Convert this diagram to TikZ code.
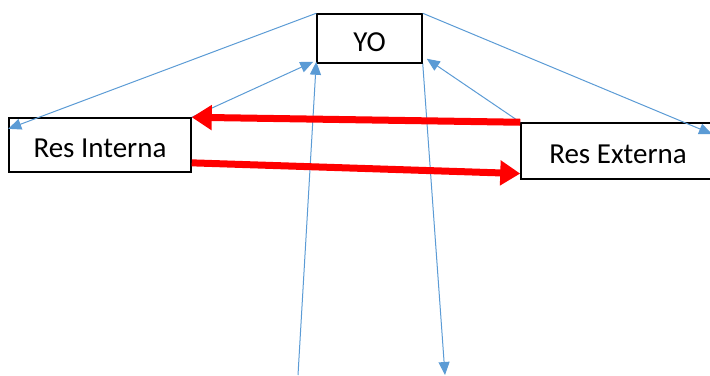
\documentclass[tikz,border=0pt]{standalone}
\usepackage{fontspec}
\setmainfont{Carlito}
\usetikzlibrary{arrows.meta,calc}
\definecolor{linkcol}{RGB}{91,155,213}
\definecolor{flowcol}{RGB}{255,0,0}
\tikzset{
  box/.style={draw=black,line width=1.5bp,fill=white,inner sep=0pt,
    font=\fontsize{29bp}{35bp}\selectfont,text height=25bp,text depth=0bp},
  link/.style={draw=linkcol,line width=1bp,-{Triangle[length=13bp,width=11bp]}},
  flow/.style={draw=flowcol,line width=7bp,-{Triangle[length=20bp,width=24bp]}},
}
\begin{document}
\begin{tikzpicture}[x=1bp,y=-1bp]
  \useasboundingbox (0,0) rectangle (710,375);
%%
  % Node: YO
  \node[box,minimum width=105bp,minimum height=49bp] (yo) at (369.5,38.5) {YO};
  % Node: Res Interna
  \node[box,minimum width=182bp,minimum height=54bp] (ri) at (100,145) {Res Interna};
  % Node: Res Externa
  \node[box,minimum width=194bp,minimum height=56bp] (re) at (618,151) {Res Externa};
  % free ends
  \coordinate (lowin) at (298,375);
  \coordinate (lowout) at (445,375);
  \coordinate (farright) at (712,134);
%%
  % Edge: yo -> ri
  \draw[link] (yo.north west) -- (ri.170.5);
  % Edge: ri -> yo
  \draw[link] (ri.north east) -- ($(yo.south west)+(-3,-2)$);
  % Edge: lowin -> yo
  \draw[link] (lowin) -- ($(yo.south west)+(0,-2)$);
  % Edge: yo -> lowout
  \draw[link] (yo.south east) -- (lowout);
  % Edge: re -> yo
  \draw[link] (re.north west) -- ($(yo.south east)+(4,-5)$);
  % Edge: yo -> farright
  \draw[link] (yo.north east) -- (farright);
  % Edge: re -> ri
  \draw[flow] (re.north west) -- (ri.north east);
  % Edge: ri -> re
  \draw[flow] (ri.-11.8) -- (re.193.3);
%
\end{tikzpicture}
\end{document}
